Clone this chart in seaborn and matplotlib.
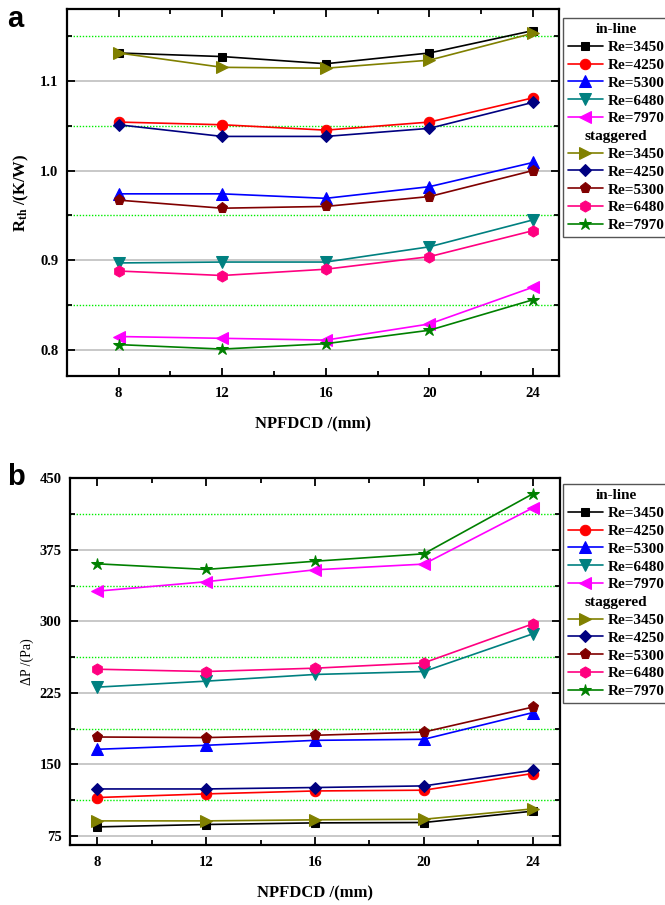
import numpy as np
import pandas as pd
import matplotlib
matplotlib.use("Agg")
import matplotlib.pyplot as plt
from matplotlib.lines import Line2D
from matplotlib.ticker import MultipleLocator, FormatStrFormatter
import seaborn as sns

# ---------------- data ----------------
spacing = [8, 12, 16, 20, 24]            # NPFDCD (mm)
re_labels = ["Re=3450", "Re=4250", "Re=5300", "Re=6480", "Re=7970"]

# thermal resistance R_th (K/W)
rth_inline_3450 = [1.131, 1.127, 1.119, 1.131, 1.156]
rth_inline_4250 = [1.054, 1.051, 1.045, 1.054, 1.081]
rth_inline_5300 = [0.974, 0.974, 0.969, 0.982, 1.009]
rth_inline_6480 = [0.897, 0.898, 0.898, 0.915, 0.945]
rth_inline_7970 = [0.815, 0.813, 0.811, 0.829, 0.870]
rth_stag_3450 = [1.131, 1.115, 1.114, 1.123, 1.153]
rth_stag_4250 = [1.051, 1.038, 1.038, 1.047, 1.076]
rth_stag_5300 = [0.967, 0.958, 0.960, 0.971, 1.000]
rth_stag_6480 = [0.888, 0.883, 0.890, 0.904, 0.933]
rth_stag_7970 = [0.806, 0.801, 0.807, 0.822, 0.856]

# pressure drop dP (Pa)
dp_inline_3450 = [84.3, 86.8, 88.5, 88.9, 100.8]
dp_inline_4250 = [115.1, 118.9, 122.0, 122.8, 140.3]
dp_inline_5300 = [165.7, 169.9, 175.1, 176.2, 204.2]
dp_inline_6480 = [230.9, 237.2, 244.2, 247.3, 286.8]
dp_inline_7970 = [331.6, 341.5, 354.0, 360.0, 419.0]
dp_stag_3450 = [90.6, 90.6, 91.7, 92.3, 103.2]
dp_stag_4250 = [124.1, 124.1, 125.6, 127.3, 143.7]
dp_stag_5300 = [178.6, 178.0, 180.4, 183.8, 210.0]
dp_stag_6480 = [249.7, 247.3, 250.8, 256.4, 297.3]
dp_stag_7970 = [360.3, 354.4, 363.0, 370.8, 433.7]

rth_inline = [rth_inline_3450, rth_inline_4250, rth_inline_5300, rth_inline_6480, rth_inline_7970]
rth_stag = [rth_stag_3450, rth_stag_4250, rth_stag_5300, rth_stag_6480, rth_stag_7970]
dp_inline = [dp_inline_3450, dp_inline_4250, dp_inline_5300, dp_inline_6480, dp_inline_7970]
dp_stag = [dp_stag_3450, dp_stag_4250, dp_stag_5300, dp_stag_6480, dp_stag_7970]

# ---------------- styles ----------------
inline_colors = ["#000000", "#ff0000", "#0000ff", "#008080", "#ff00ff"]
inline_markers = ["s", "o", "^", "v", "<"]
stag_colors = ["#808000", "#000080", "#800000", "#ff0080", "#008000"]
stag_markers = [">", "D", "p", "h", "*"]
marker_sizes = {"s": 6, "o": 7.5, "^": 8, "v": 8, "<": 8, ">": 8,
                "D": 6.5, "p": 8, "h": 8, "*": 9}

sns.set_style("ticks")
plt.rcParams["font.family"] = ["Liberation Serif", "DejaVu Serif"]
plt.rcParams["font.weight"] = "bold"
plt.rcParams["text.color"] = "black"
plt.rcParams["axes.labelcolor"] = "black"
plt.rcParams["xtick.color"] = "black"
plt.rcParams["ytick.color"] = "black"
plt.rcParams["mathtext.fontset"] = "custom"
plt.rcParams["mathtext.rm"] = "Liberation Serif:bold"
plt.rcParams["mathtext.bf"] = "Liberation Serif:bold"
plt.rcParams["mathtext.it"] = "Liberation Serif:bold"

fig = plt.figure(figsize=(6.65, 9.05), dpi=100)
W, H = 665.0, 905.0
ax_a = fig.add_axes([66.7 / W, 1 - 376 / H, (559 - 66.7) / W, (376 - 9) / H])
ax_b = fig.add_axes([70 / W, 1 - 845 / H, (560 - 70) / W, (845 - 478.3) / H])


def draw_panel(ax, inline, stag, ylim, ymajor, yfmt):
    handles = []
    groups = [(inline, inline_colors, inline_markers), (stag, stag_colors, stag_markers)]
    for series, colors, markers in groups:
        for vals, c, m in zip(series, colors, markers):
            df = pd.DataFrame({"x": spacing, "y": vals})
            sns.lineplot(data=df, x="x", y="y", ax=ax, color=c, marker=m,
                         markersize=marker_sizes[m], markeredgecolor=c,
                         linewidth=1.2, zorder=3, legend=False)
            handles.append(ax.lines[-1])

    ax.set_ylim(*ylim)
    ax.xaxis.set_major_locator(MultipleLocator(4))
    ax.xaxis.set_minor_locator(MultipleLocator(2))
    ax.yaxis.set_major_locator(MultipleLocator(ymajor))
    ax.yaxis.set_minor_locator(MultipleLocator(ymajor / 2))
    ax.yaxis.set_major_formatter(FormatStrFormatter(yfmt))

    ax.grid(which="major", axis="y", color="#c4c4c4", linewidth=1.3, linestyle="-", zorder=0)
    ax.grid(which="minor", axis="y", color="#00ee00", linewidth=1.0,
            linestyle=(0, (1, 1.2)), zorder=0)
    ax.set_axisbelow(True)

    ax.tick_params(which="both", direction="in", top=True, right=True,
                   labelsize=10.5, width=1.3, pad=6)
    ax.tick_params(axis="x", which="major", pad=8)
    ax.tick_params(which="major", length=6)
    ax.tick_params(which="minor", length=3.5)
    for lab in ax.get_xticklabels() + ax.get_yticklabels():
        lab.set_fontweight("bold")
    for sp in ax.spines.values():
        sp.set_linewidth(1.6)
        sp.set_color("black")
    return handles


def add_legend(handles, top_px):
    blank = Line2D([], [], linestyle="none", marker="none")
    hs = [blank] + handles[:5] + [blank] + handles[5:]
    labels = [" "] + re_labels + [" "] + re_labels
    leg = fig.legend(hs, labels, loc="upper left",
                     bbox_to_anchor=(563 / W, 1 - top_px / H),
                     bbox_transform=fig.transFigure,
                     borderaxespad=0, frameon=True, fancybox=False, framealpha=1,
                     prop={"family": "Liberation Serif", "weight": "bold", "size": 11},
                     handlelength=2.3, handletextpad=0.3, labelspacing=0.27,
                     borderpad=0.3)
    fr = leg.get_frame()
    fr.set_edgecolor("#555555")
    fr.set_linewidth(1.0)
    return leg


def add_headers(leg):
    fig.canvas.draw()
    renderer = fig.canvas.get_renderer()
    frame_bb = leg.get_frame().get_window_extent(renderer)
    xc = (frame_bb.x0 + frame_bb.x1) / 2
    texts = leg.get_texts()
    inv = fig.transFigure.inverted()
    for idx, name in [(0, "in-line"), (6, "staggered")]:
        bb = texts[idx].get_window_extent(renderer)
        ref = texts[idx + 1].get_window_extent(renderer)
        yc = bb.y0 + (ref.y1 - ref.y0) / 2
        fx, fy = inv.transform((xc, yc))
        fig.text(fx, fy, name, ha="center", va="center", zorder=10,
                 fontsize=11, fontweight="bold", family="Liberation Serif")


# panel a: thermal resistance
h_a = draw_panel(ax_a, rth_inline, rth_stag, (0.771, 1.18), 0.1, "%.1f")
ax_a.set_xlim(6, 25)
ax_a.set_xlabel("NPFDCD /(mm)", fontsize=12, fontweight="bold")
ax_a.set_ylabel(r"$\mathbf{R_{th}}$ /(K/W)", fontsize=12, fontweight="bold")
ax_a.xaxis.set_label_coords(0.5, -0.109)
ax_a.yaxis.set_label_coords(-0.072, 0.5)

# panel b: pressure drop
h_b = draw_panel(ax_b, dp_inline, dp_stag, (65.3, 450), 75, "%d")
ax_b.set_xlim(7, 25)
ax_b.set_xlabel("NPFDCD /(mm)", fontsize=12, fontweight="bold")
ax_b.set_ylabel("\u0394P /(Pa)", fontsize=10, fontweight="normal")
ax_b.xaxis.set_label_coords(0.5, -0.109)
ax_b.yaxis.set_label_coords(-0.074, 0.5)

leg_a = add_legend(h_a, 18)
leg_b = add_legend(h_b, 484)
add_headers(leg_a)
add_headers(leg_b)

# panel letters
fig.text(7 / W, 1 - 27 / H, "a", fontsize=21, fontweight="bold",
         family="Liberation Sans", va="baseline", ha="left")
fig.text(7 / W, 1 - 485 / H, "b", fontsize=21, fontweight="bold",
         family="Liberation Sans", va="baseline", ha="left")

fig.savefig("out.png", dpi=100)
